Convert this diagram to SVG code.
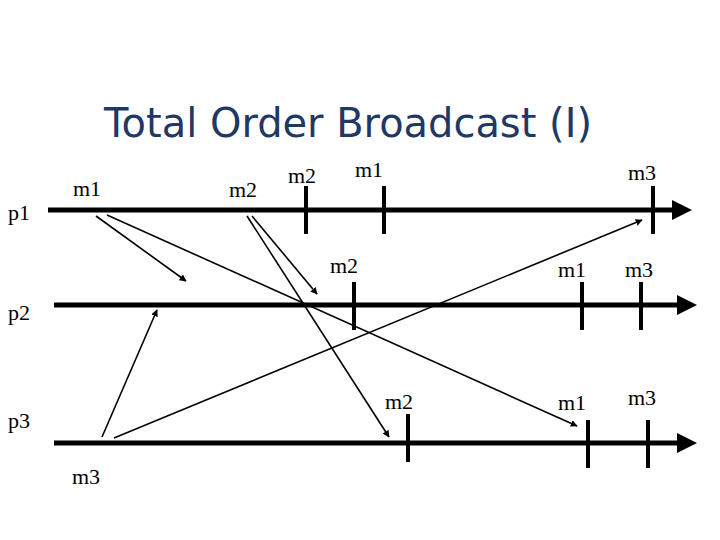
<svg xmlns="http://www.w3.org/2000/svg" width="720" height="540" viewBox="0 0 720 540">
<style>
.t{font-family:"Liberation Serif",serif;font-size:22px;fill:#000}
.ln{stroke:#000;stroke-width:5}
.tk{stroke:#000;stroke-width:4}
.ar{stroke:#000;stroke-width:1.6;fill:none;marker-end:url(#ah)}
</style>
<defs>
<marker id="ah" viewBox="0 0 10 10" refX="9" refY="5" markerWidth="7" markerHeight="7" markerUnits="userSpaceOnUse" orient="auto"><path d="M0,0 L10,5 L0,10 z"/></marker>
<marker id="big" viewBox="0 0 10 10" refX="2" refY="5" markerWidth="4" markerHeight="4" orient="auto"><path d="M0,0 L10,5 L0,10 z"/></marker>
</defs>
<rect width="720" height="540" fill="#fff"/>
<text x="348" y="137" text-anchor="middle" textLength="488" lengthAdjust="spacingAndGlyphs" font-family="'DejaVu Sans',sans-serif" font-size="40" fill="#1F3864">Total Order Broadcast (I)</text>
<g id="p1"><text class="t" x="8" y="220">p1</text><line class="ln" x1="48" y1="210" x2="676" y2="210" marker-end="url(#big)"/>
<line class="tk" x1="306" y1="186" x2="306" y2="234"/><line class="tk" x1="384" y1="186" x2="384" y2="234"/><line class="tk" x1="653" y1="186" x2="653" y2="234"/>
<text class="t" x="73" y="196">m1</text><text class="t" x="229" y="197">m2</text><text class="t" x="288" y="183">m2</text><text class="t" x="355" y="177">m1</text><text class="t" x="628" y="180">m3</text></g>
<g id="p2"><text class="t" x="8" y="320">p2</text><line class="ln" x1="54" y1="305" x2="681" y2="305" marker-end="url(#big)"/>
<line class="tk" x1="354" y1="282" x2="354" y2="330"/><line class="tk" x1="582" y1="282" x2="582" y2="330"/><line class="tk" x1="641" y1="282" x2="641" y2="330"/>
<text class="t" x="330" y="273">m2</text><text class="t" x="558" y="277">m1</text><text class="t" x="625" y="277">m3</text></g>
<g id="p3"><text class="t" x="8" y="428">p3</text><line class="ln" x1="54" y1="443" x2="681" y2="443" marker-end="url(#big)"/>
<line class="tk" x1="408" y1="414" x2="408" y2="462"/><line class="tk" x1="588" y1="420" x2="588" y2="468"/><line class="tk" x1="648" y1="420" x2="648" y2="468"/>
<text class="t" x="385" y="409">m2</text><text class="t" x="558" y="410">m1</text><text class="t" x="628" y="405">m3</text><text class="t" x="72" y="484">m3</text></g>
<g id="connectors">
<line class="ar" x1="96" y1="216" x2="186" y2="281"/>
<line class="ar" x1="107" y1="215" x2="577" y2="426"/>
<line class="ar" x1="252" y1="216" x2="317" y2="294"/>
<line class="ar" x1="247" y1="216" x2="389" y2="437"/>
<line class="ar" x1="102" y1="437" x2="157" y2="310"/>
<line class="ar" x1="114" y1="438" x2="642" y2="220"/>
</g>
</svg>
